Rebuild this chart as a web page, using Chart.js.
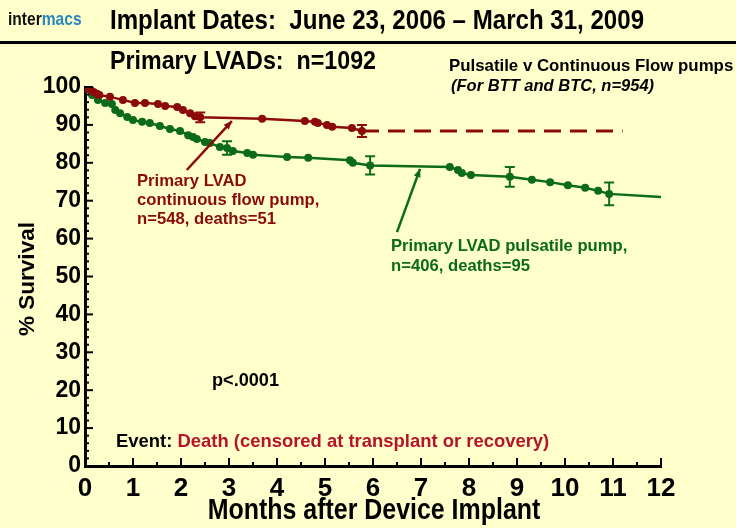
<!DOCTYPE html>
<html><head><meta charset="utf-8">
<script src="https://cdn.jsdelivr.net/npm/chart.js@4/dist/chart.umd.min.js"></script>
<style>html,body{margin:0;padding:0;background:#FFFFCC;overflow:hidden}</style>
</head><body>
<canvas id="c" width="736" height="528"></canvas>
<script>
// ---- data ----
const cfMonths   = [0, 0.02, 0.06, 0.12, 0.18, 0.25, 0.3, 0.52, 0.79, 1.04, 1.25, 1.52, 1.67, 1.92, 2.04, 2.19, 2.29, 2.4, 3.69, 4.58, 4.79, 4.85, 5.04, 5.15, 5.56, 5.77];
const cfSurvival = [100, 100, 99.6, 99.2, 98.7, 98.2, 97.9, 97.4, 96.6, 95.8, 95.8, 95.5, 95.0, 94.7, 93.9, 93.1, 92.3, 92.0, 91.6, 91.0, 90.8, 90.5, 90.0, 89.5, 89.2, 88.4];
const cfProjMonths   = [5.77, 11.2];
const cfProjSurvival = [88.4, 88.4];
const pulMonths   = [0, 0.04, 0.15, 0.27, 0.42, 0.56, 0.63, 0.73, 0.88, 1.0, 1.19, 1.35, 1.56, 1.77, 1.98, 2.15, 2.25, 2.33, 2.5, 2.6, 2.81, 2.96, 3.08, 3.38, 3.5, 4.21, 4.65, 5.52, 5.58, 5.94, 7.6, 7.77, 7.85, 8.04, 8.85, 9.31, 9.69, 10.06, 10.42, 10.69, 10.92, 12.0];
const pulSurvival = [100, 99.5, 97.9, 96.6, 95.8, 95.5, 93.9, 93.1, 92.1, 91.3, 90.8, 90.5, 89.7, 88.9, 88.4, 87.3, 86.8, 86.3, 85.5, 85.2, 84.2, 83.9, 83.1, 82.6, 82.1, 81.5, 81.3, 80.7, 80.0, 79.3, 78.9, 78.1, 77.3, 76.8, 76.3, 75.5, 74.9, 74.1, 73.4, 72.6, 71.8, 71.0];
const cfErrMonths = [2.4, 5.77];
const cfErrLow    = [90.7, 86.8];
const cfErrHigh   = [93.3, 90.0];
const pulErrMonths = [2.96, 5.94, 8.85, 10.92];
const pulErrLow    = [82.1, 76.9, 73.7, 68.8];
const pulErrHigh   = [85.7, 81.7, 78.9, 74.8];
const xTickLabels = ['0','1','2','3','4','5','6','7','8','9','10','11','12'];
const yTickLabels = ['0','10','20','30','40','50','60','70','80','90','100'];

const RED = '#8B0A0A';
const GREEN = '#0B6B1A';
const FONT = '"Liberation Sans",Arial,sans-serif';

const toXY = (xs, ys) => xs.map((x, i) => ({x, y: ys[i]}));

// draw horizontally condensed text (reference uses a narrow face)
function txt(ctx, s, x, y, size, color, sx, opts) {
  opts = opts || {};
  ctx.save();
  ctx.font = (opts.italic ? 'italic ' : '') + 'bold ' + size + 'px ' + FONT;
  ctx.fillStyle = color;
  ctx.textBaseline = 'middle';
  ctx.textAlign = opts.align || 'left';
  ctx.translate(x, y);
  if (opts.rot) ctx.rotate(opts.rot);
  ctx.scale(sx, 1);
  ctx.fillText(s, 0, 0);
  const w = ctx.measureText(s).width * sx;
  ctx.restore();
  return w;
}

const decor = {
  id: 'decor',
  beforeDraw(chart) {
    const ctx = chart.ctx;
    ctx.save();
    ctx.fillStyle = '#FFFFCC';
    ctx.fillRect(0, 0, chart.width, chart.height);
    ctx.restore();
  },
  afterDatasetsDraw(chart) {
    const ctx = chart.ctx;
    const xs = chart.scales.x, ys = chart.scales.y;
    ctx.save();
    const drawErr = (ms, lo, hi, col) => {
      ctx.strokeStyle = col; ctx.lineWidth = 2;
      ms.forEach((m, i) => {
        const px = xs.getPixelForValue(m);
        const y1 = ys.getPixelForValue(lo[i]), y2 = ys.getPixelForValue(hi[i]);
        ctx.beginPath();
        ctx.moveTo(px, y1); ctx.lineTo(px, y2);
        ctx.moveTo(px - 5, y1); ctx.lineTo(px + 5, y1);
        ctx.moveTo(px - 5, y2); ctx.lineTo(px + 5, y2);
        ctx.stroke();
      });
    };
    drawErr(cfErrMonths, cfErrLow, cfErrHigh, RED);
    drawErr(pulErrMonths, pulErrLow, pulErrHigh, GREEN);
    const arrow = (m1, v1, m2, v2, col) => {
      const x1 = xs.getPixelForValue(m1), y1 = ys.getPixelForValue(v1);
      const x2 = xs.getPixelForValue(m2), y2 = ys.getPixelForValue(v2);
      ctx.strokeStyle = col; ctx.fillStyle = col; ctx.lineWidth = 2.5;
      ctx.beginPath(); ctx.moveTo(x1, y1); ctx.lineTo(x2, y2); ctx.stroke();
      const a = Math.atan2(y2 - y1, x2 - x1);
      ctx.beginPath();
      ctx.moveTo(x2, y2);
      ctx.lineTo(x2 - 9 * Math.cos(a - 0.4), y2 - 9 * Math.sin(a - 0.4));
      ctx.lineTo(x2 - 9 * Math.cos(a + 0.4), y2 - 9 * Math.sin(a + 0.4));
      ctx.closePath(); ctx.fill();
    };
    arrow(2.12, 78.1, 3.06, 91.0, RED);
    arrow(6.5, 61.7, 6.98, 78.4, GREEN);
    ctx.restore();
  },
  afterDraw(chart) {
    const ctx = chart.ctx;
    const xs = chart.scales.x, ys = chart.scales.y;
    const ca = chart.chartArea;
    ctx.save();
    // inward tick marks
    ctx.strokeStyle = '#000';
    ctx.lineWidth = 2;
    for (let m = 0.5; m <= 12.001; m += 0.5) {
      const px = xs.getPixelForValue(m);
      const len = Math.abs(m - Math.round(m)) < 1e-6 ? 8 : 4;
      ctx.beginPath(); ctx.moveTo(px, ca.bottom); ctx.lineTo(px, ca.bottom - len); ctx.stroke();
    }
    for (let v = 2; v <= 100; v += 2) {
      const py = ys.getPixelForValue(v);
      const len = v % 10 === 0 ? 8 : 4;
      ctx.beginPath(); ctx.moveTo(ca.left, py); ctx.lineTo(ca.left + len, py); ctx.stroke();
    }
    // header
    txt(ctx, 'Implant Dates:  June 23, 2006 \u2013 March 31, 2009', 110, 21, 28, '#000', 0.86);
    const lw = txt(ctx, 'inter', 8, 20, 19, '#111', 0.82);
    txt(ctx, 'macs', 8 + lw, 20, 19, '#2A86C0', 0.82);
    ctx.fillStyle = '#000';
    ctx.fillRect(0, 41, 736, 3);
    // subtitles
    txt(ctx, 'Primary LVADs:  n=1092', 110, 62, 25, '#000', 0.93);
    txt(ctx, 'Pulsatile v Continuous Flow pumps', 449, 66, 17, '#000', 0.99);
    txt(ctx, '(For BTT and BTC, n=954)', 451, 86, 16.5, '#000', 1.0, {italic: true});
    // annotations
    txt(ctx, 'Primary LVAD', 137, 181, 17, RED, 0.98);
    txt(ctx, 'continuous flow pump,', 137, 200, 17, RED, 0.98);
    txt(ctx, 'n=548, deaths=51', 137, 219, 17, RED, 0.98);
    txt(ctx, 'Primary LVAD pulsatile pump,', 391, 246, 17, GREEN, 0.98);
    txt(ctx, 'n=406, deaths=95', 391, 266, 17, GREEN, 0.98);
    txt(ctx, 'p<.0001', 212, 381, 18.5, '#000', 0.98);
    const ew = txt(ctx, 'Event: ', 116, 442, 19, '#000', 0.97);
    txt(ctx, 'Death (censored at transplant or recovery)', 116 + ew, 442, 19, '#B5142A', 0.97);
    // axis titles
    txt(ctx, 'Months after Device Implant', 374, 511, 29, '#000', 0.86, {align: 'center'});
    txt(ctx, '% Survival', 28, 279, 22.5, '#000', 1.0, {align: 'center', rot: -Math.PI / 2});
    ctx.restore();
  }
};

new Chart(document.getElementById('c'), {
  type: 'line',
  data: {
    datasets: [
      { label: 'cf', data: toXY(cfMonths, cfSurvival), borderColor: RED, backgroundColor: RED,
        borderWidth: 2.5, pointRadius: 4, pointHoverRadius: 4, pointBorderWidth: 0, tension: 0 },
      { label: 'cfproj', data: toXY(cfProjMonths, cfProjSurvival), borderColor: RED, backgroundColor: RED,
        borderWidth: 3, borderDash: [17, 9], pointRadius: 0, tension: 0 },
      { label: 'pul', data: toXY(pulMonths, pulSurvival), borderColor: GREEN, backgroundColor: GREEN,
        borderWidth: 2.5, pointBorderWidth: 0, tension: 0,
        pointRadius: ctx => (ctx.dataIndex === pulMonths.length - 1 ? 0 : 4) }
    ]
  },
  options: {
    responsive: false,
    animation: false,
    events: [],
    layout: { padding: { left: 0, right: 75, top: 87, bottom: 0 } },
    plugins: { legend: { display: false }, tooltip: { enabled: false } },
    scales: {
      x: {
        type: 'linear', min: 0, max: 12,
        afterFit: s => { s.height = 62; },
        afterBuildTicks: s => { s.ticks = xTickLabels.map(t => ({ value: Number(t) })); },
        grid: { display: false, drawTicks: false },
        border: { display: true, color: '#000', width: 3 },
        ticks: { color: '#000', padding: 7, maxRotation: 0, autoSkip: false,
          font: { family: FONT, size: 26, weight: 'bold' },
          callback: (v, i) => xTickLabels[i] }
      },
      y: {
        type: 'linear', min: 0, max: 100,
        afterFit: s => { s.width = 85; },
        afterBuildTicks: s => { s.ticks = yTickLabels.map(t => ({ value: Number(t) })); },
        grid: { display: false, drawTicks: false },
        border: { display: true, color: '#000', width: 3 },
        ticks: { color: '#000', padding: 4, autoSkip: false,
          font: { family: FONT, size: 23, weight: 'bold' },
          callback: (v, i) => yTickLabels[i] }
      }
    }
  },
  plugins: [decor]
});
</script>
</body></html>
